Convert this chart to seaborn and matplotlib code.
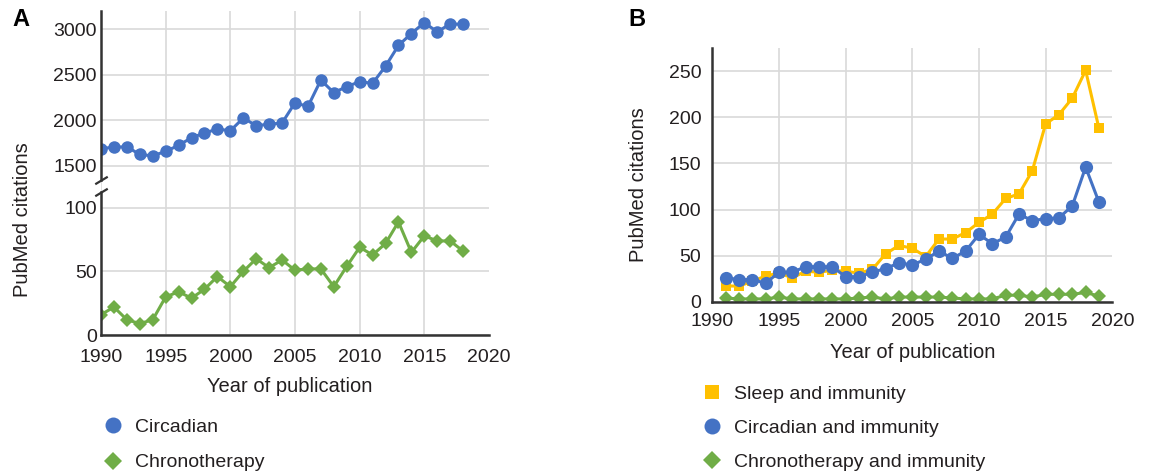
import matplotlib
matplotlib.use('Agg')
import matplotlib.pyplot as plt
from matplotlib.lines import Line2D
import seaborn as sns

years_a = list(range(1990, 2019))
circadian = [1690, 1705, 1710, 1625, 1610, 1660, 1725, 1810, 1860, 1905, 1885, 2025, 1942, 1957, 1971,
             2192, 2152, 2442, 2304, 2370, 2424, 2406, 2594, 2822, 2953, 3072, 2971, 3058, 3054]
chrono = [16, 22, 12, 9, 12, 30, 34, 29, 36, 46, 38, 50, 60, 53, 59,
          51, 52, 52, 38, 54, 69, 63, 72, 89, 65, 78, 74, 74, 66]

years_b = list(range(1991, 2020))
sleep_imm = [17, 17, 22, 28, 31, 26, 33, 32, 34, 33, 31, 35, 52, 61, 58,
             49, 68, 68, 75, 86, 95, 112, 117, 142, 193, 203, 221, 251, 188]
circ_imm = [26, 24, 24, 20, 32, 32, 38, 38, 38, 27, 27, 32, 36, 42, 40,
            46, 55, 47, 55, 73, 63, 70, 95, 88, 90, 91, 104, 146, 108]
chrono_imm = [4, 3, 3, 3, 5, 3, 3, 3, 3, 3, 4, 5, 3, 5, 5,
              5, 5, 4, 3, 3, 3, 7, 7, 5, 8, 8, 8, 10, 6]

BLUE = '#4472c4'
GREEN = '#70ad47'
YELLOW = '#ffc000'
TXT = '#231f20'
SPINE = '#333333'
GRID = '#d9d9d9'

sns.set_theme(style='white')
plt.rcParams['font.family'] = ['Liberation Sans', 'DejaVu Sans']
plt.rcParams['text.color'] = TXT

fig = plt.figure(figsize=(11.53, 4.76), dpi=100)
ax_top = fig.add_axes([0.0876, 0.6113, 0.3365, 0.3656])
ax_bot = fig.add_axes([0.0876, 0.2962, 0.3365, 0.3151])
ax_b = fig.add_axes([0.6178, 0.3662, 0.3469, 0.5323])


def style(ax, ypad):
    ax.grid(True, color=GRID, lw=1.2)
    ax.set_axisbelow(True)
    for s in ['top', 'right']:
        ax.spines[s].set_visible(False)
    for s in ['left', 'bottom']:
        ax.spines[s].set_color(SPINE)
        ax.spines[s].set_linewidth(1.8)
    ax.tick_params(length=0, labelsize=14, colors=TXT)
    ax.tick_params(axis='y', pad=ypad)
    ax.set_xlim(1990, 2020)
    ax.set_xticks([1990, 1995, 2000, 2005, 2010, 2015, 2020])
    ax.get_xgridlines()[-1].set_visible(False)
    ax.set_xlabel('')
    ax.set_ylabel('')


# panel A, broken axis
sns.lineplot(x=years_a, y=circadian, ax=ax_top, color=BLUE, lw=2.2, marker='o', ms=9,
             mec=BLUE, mew=0, legend=False)
sns.lineplot(x=years_a, y=chrono, ax=ax_bot, color=GREEN, lw=2.2, marker='D', ms=7,
             mec=GREEN, mew=0, legend=False)

style(ax_top, 3)
style(ax_bot, 3)
ax_top.set_ylim(1290, 3200)
ax_top.set_yticks([1500, 2000, 2500, 3000])
ax_top.spines['bottom'].set_visible(False)
ax_top.spines['left'].set_bounds(1350, 3200)
ax_top.tick_params(axis='x', labelbottom=False)

ax_bot.set_ylim(0, 118)
ax_bot.set_yticks([0, 50, 100])
ax_bot.spines['left'].set_bounds(0, 112.4)
ax_bot.tick_params(axis='x', pad=10)

slash = [(-1, -0.6), (1, 0.6)]
ax_top.plot([0], [1350], transform=ax_top.get_yaxis_transform(), marker=slash, ms=9,
            mew=1.6, color=SPINE, ls='none', clip_on=False)
ax_bot.plot([0], [112.4], transform=ax_bot.get_yaxis_transform(), marker=slash, ms=9,
            mew=1.6, color=SPINE, ls='none', clip_on=False)

# panel B
sns.lineplot(x=years_b, y=sleep_imm, ax=ax_b, color=YELLOW, lw=2.2, marker='s', ms=7,
             mec=YELLOW, mew=0, legend=False)
sns.lineplot(x=years_b, y=circ_imm, ax=ax_b, color=BLUE, lw=2.2, marker='o', ms=9.5,
             mec=BLUE, mew=0, legend=False)
sns.lineplot(x=years_b, y=chrono_imm, ax=ax_b, color=GREEN, lw=2.2, marker='D', ms=7,
             mec=GREEN, mew=0, legend=False)
style(ax_b, 8)
ax_b.set_ylim(0, 275)
ax_b.set_yticks([0, 50, 100, 150, 200, 250])
ax_b.tick_params(axis='x', pad=8)

# labels
fig.text(0.0191, 0.5378, 'PubMed citations', rotation=90, ha='center', va='center', fontsize=14.5)
fig.text(0.2515, 0.1876, 'Year of publication', ha='center', va='center', fontsize=14.5)
fig.text(0.5534, 0.6113, 'PubMed citations', rotation=90, ha='center', va='center', fontsize=14.5)
fig.text(0.7914, 0.2605, 'Year of publication', ha='center', va='center', fontsize=14.5)
fig.text(0.0182, 0.958, 'A', ha='center', va='center', fontsize=17, fontweight='bold', color='black')
fig.text(0.5522, 0.958, 'B', ha='center', va='center', fontsize=17, fontweight='bold', color='black')

# legends
h_a = [Line2D([], [], marker='o', color=BLUE, ls='none', ms=11.5, mew=0),
       Line2D([], [], marker='D', color=GREEN, ls='none', ms=9.5, mew=0)]
fig.legend(h_a, ['Circadian', 'Chronotherapy'], loc='upper left',
           bbox_to_anchor=(103 / 1153, 1 - 418 / 476), frameon=False, fontsize=14,
           handlelength=1.0, handletextpad=0.63, labelspacing=0.93, borderpad=0, borderaxespad=0)

h_b = [Line2D([], [], marker='s', color=YELLOW, ls='none', ms=10, mew=0),
       Line2D([], [], marker='o', color=BLUE, ls='none', ms=11.5, mew=0),
       Line2D([], [], marker='D', color=GREEN, ls='none', ms=9.5, mew=0)]
fig.legend(h_b, ['Sleep and immunity', 'Circadian and immunity', 'Chronotherapy and immunity'],
           loc='upper left', bbox_to_anchor=(702 / 1153, 1 - 385 / 476), frameon=False,
           fontsize=14, handlelength=1.0, handletextpad=0.63, labelspacing=0.86,
           borderpad=0, borderaxespad=0)

fig.savefig('out.png', dpi=100)
